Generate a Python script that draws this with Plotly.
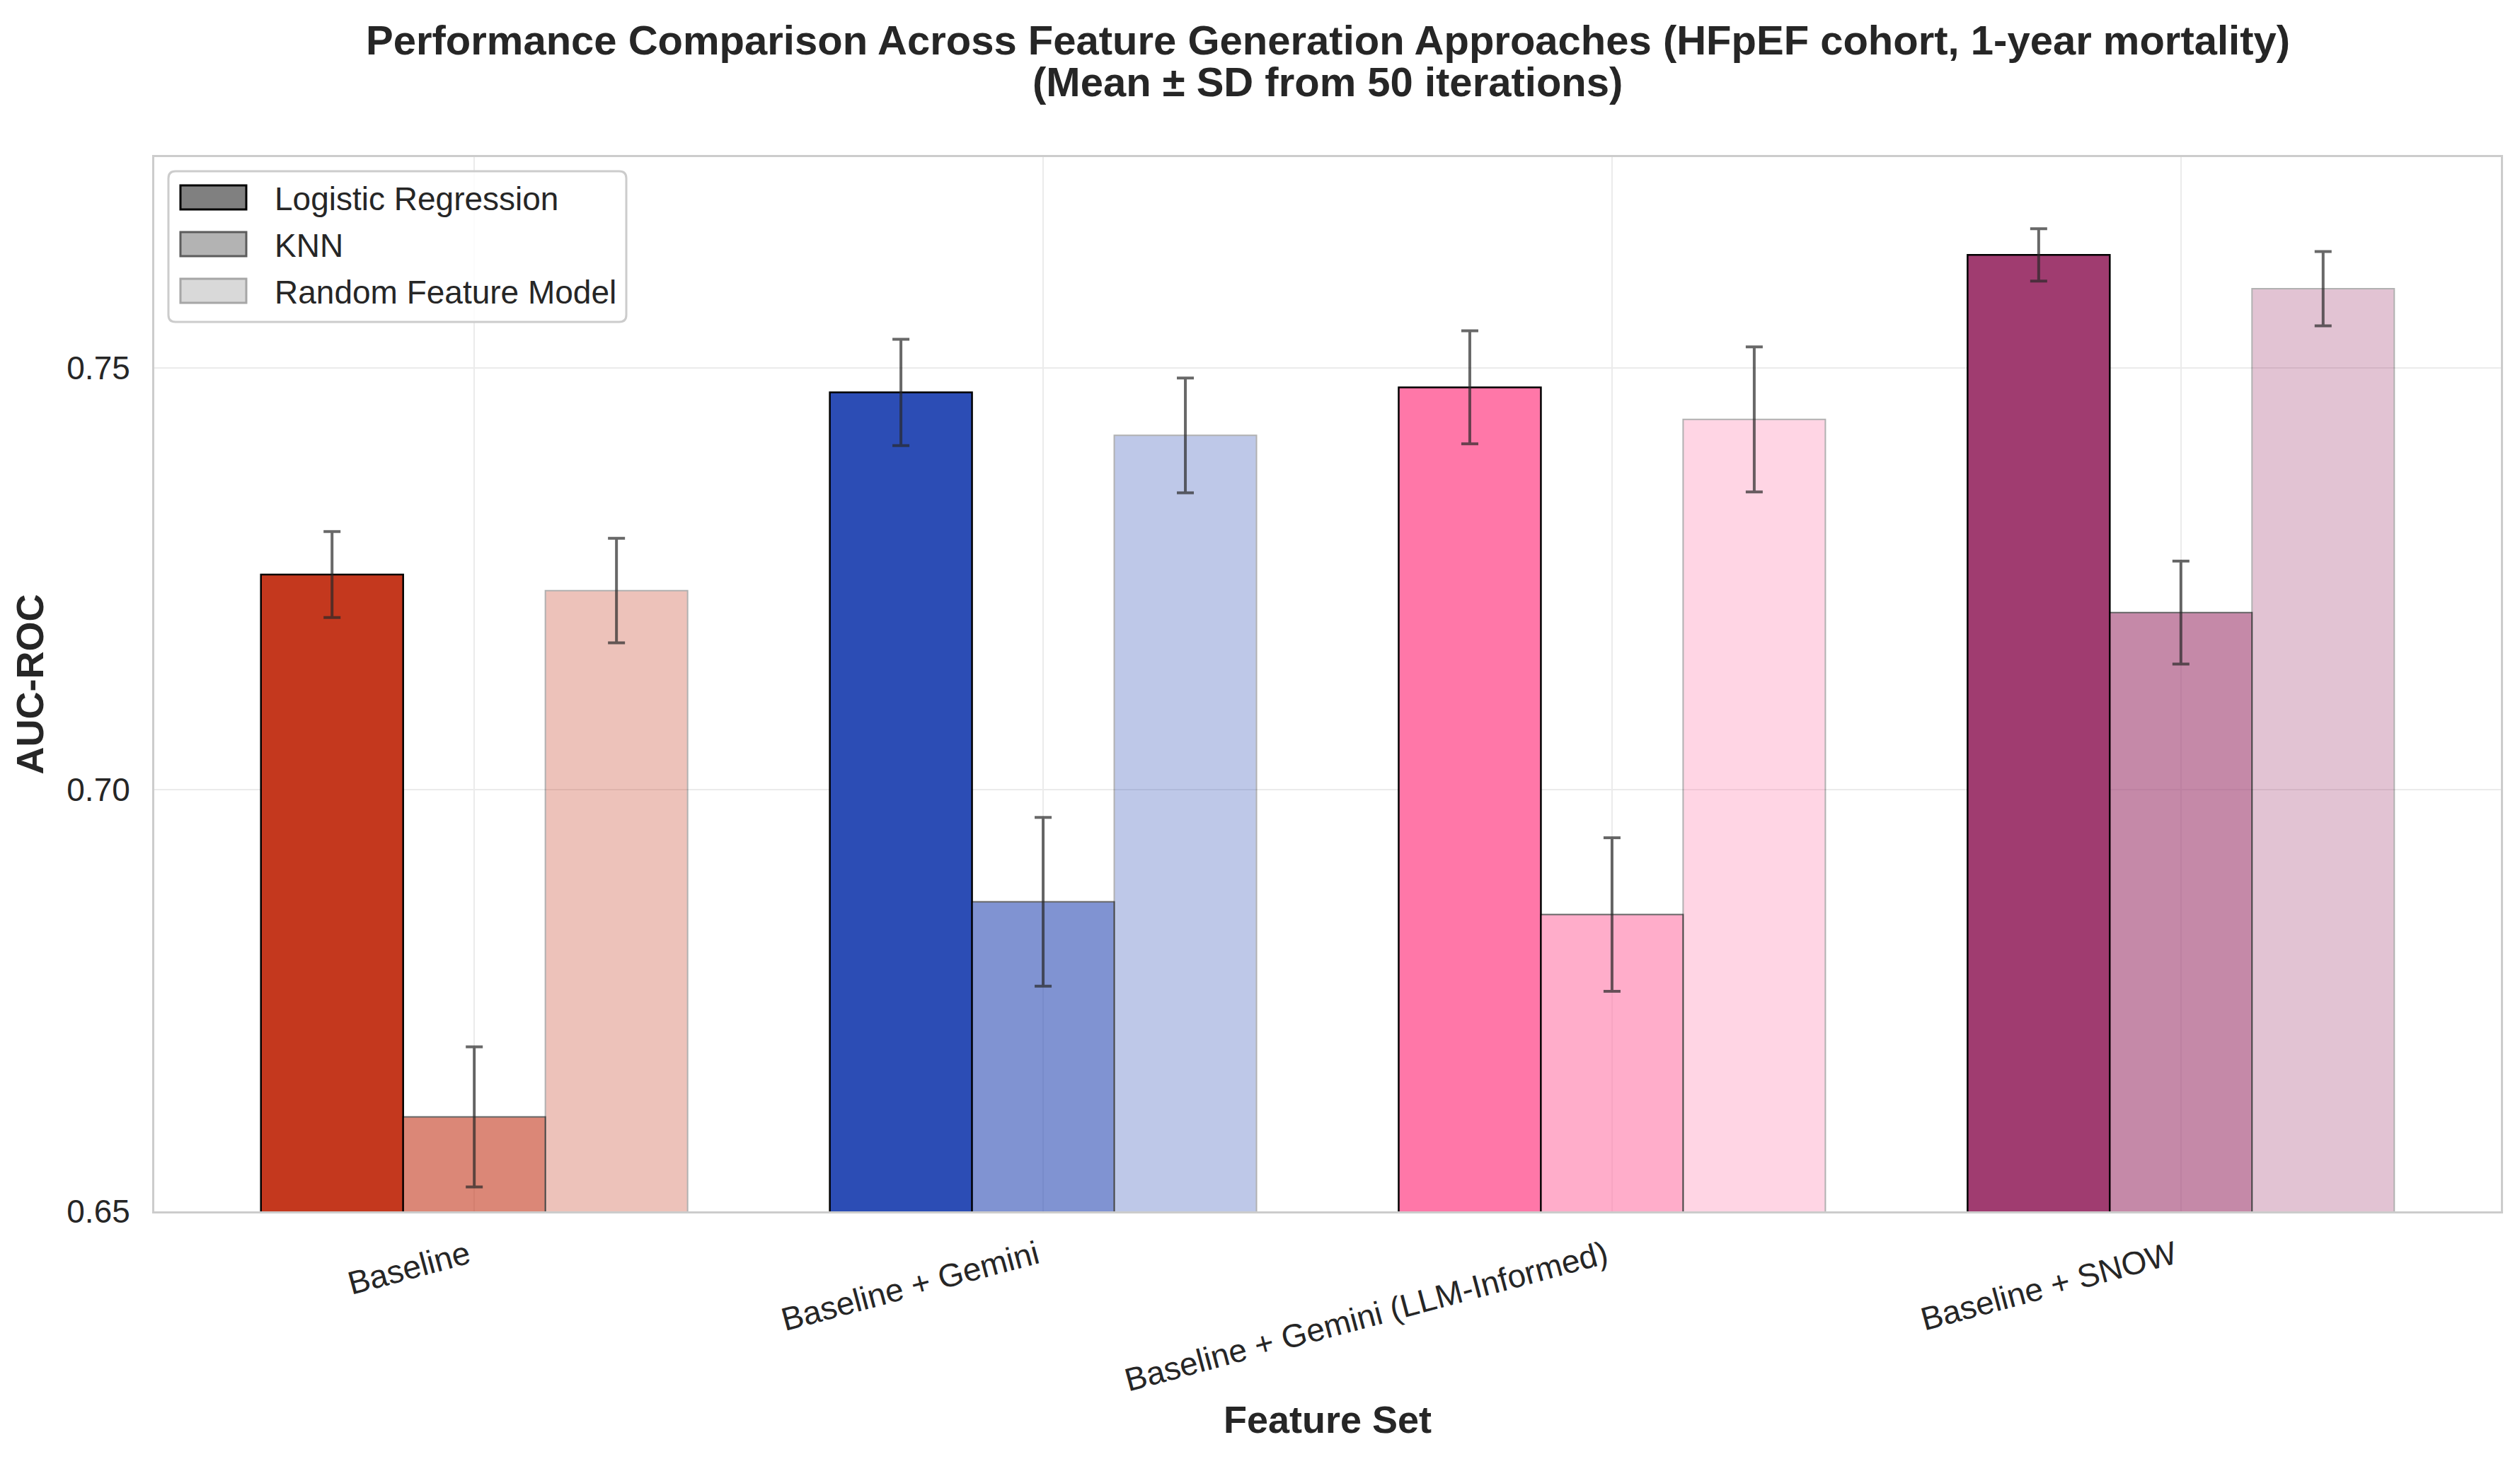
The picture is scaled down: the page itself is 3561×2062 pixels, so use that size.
import plotly.graph_objects as go

categories = ["Baseline", "Baseline + Gemini", "Baseline + Gemini (LLM-Informed)", "Baseline + SNOW"]
models = ["Logistic Regression", "KNN", "Random Feature Model"]

lr_mean = [0.7255, 0.7471, 0.7477, 0.7634]
lr_sd = [0.0051, 0.0063, 0.0067, 0.0031]
knn_mean = [0.6612, 0.6867, 0.6852, 0.7210]
knn_sd = [0.0083, 0.0100, 0.0091, 0.0061]
rfm_mean = [0.7236, 0.7420, 0.7439, 0.7594]
rfm_sd = [0.0062, 0.0068, 0.0086, 0.0044]

group_colors = ["#C4381E", "#2C4DB5", "#FF77A8", "#A03C70"]
legend_colors = ["#808080", "#B3B3B3", "#D9D9D9"]
legend_edges = ["#000000", "#5C5C5C", "#A6A6A6"]

FONT = "Liberation Sans, Arial, Helvetica, sans-serif"
TXT = "#262626"

# page body has an 8px margin; compensate so the plot lands where the reference has it
W, H = 3553, 2054
L, R, T, B = 210, 27, 214, 350
PW, PH = W - L - R, H - T - B
OFF = 8


def px(X):
    return (X - OFF - L) / PW


def py(Y):
    return 1 - (Y - OFF - T) / PH


series = [
    (lr_mean, lr_sd, 1.0, -0.375, 2.5),
    (knn_mean, knn_sd, 0.6, -0.125, 2.0),
    (rfm_mean, rfm_sd, 0.3, 0.125, 2.0),
]

fig = go.Figure()
for i, (m, sd, op, off, lw) in enumerate(series):
    fig.add_trace(go.Bar(
        x=categories, y=m, width=0.25, offset=off,
        marker=dict(color=group_colors, opacity=op,
                    line=dict(color="black", width=lw)),
        error_y=dict(type="data", array=sd, visible=True,
                     color="rgba(40,40,40,0.7)", thickness=4, width=12),
        showlegend=False, name=models[i],
    ))

# legend box (drawn to match the reference's large patches)
bx0, bx1, by0, by1, rad = 238, 885, 242, 455, 10
x0, x1 = px(bx0), px(bx1)
y0, y1 = py(by0), py(by1)
rx, ry = rad / PW, rad / PH
path = (f"M {x0+rx},{y0} L {x1-rx},{y0} Q {x1},{y0} {x1},{y0-ry} "
        f"L {x1},{y1+ry} Q {x1},{y1} {x1-rx},{y1} L {x0+rx},{y1} "
        f"Q {x0},{y1} {x0},{y1+ry} L {x0},{y0-ry} Q {x0},{y0} {x0+rx},{y0} Z")
shapes = [dict(type="path", xref="paper", yref="paper", path=path,
               fillcolor="rgba(255,255,255,0.85)", line=dict(color="#CCCCCC", width=3), layer="above")]
annotations = []
row_centers = [279, 345, 411]
for i, name in enumerate(models):
    yc = row_centers[i]
    shapes.append(dict(type="rect", xref="paper", yref="paper",
                       x0=px(255), x1=px(348), y0=py(yc - 17), y1=py(yc + 17),
                       fillcolor=legend_colors[i], line=dict(color=legend_edges[i], width=3), layer="above"))
    annotations.append(dict(x=px(386), y=py(yc + 2), xref="paper", yref="paper",
                            text=name, showarrow=False, xanchor="left", yanchor="middle",
                            font=dict(family=FONT, size=46, color=TXT)))

annotations.append(dict(x=0.5, y=py(56), xref="paper", yref="paper",
                        text="<b>Performance Comparison Across Feature Generation Approaches (HFpEF cohort, 1-year mortality)</b>",
                        showarrow=False, xanchor="center", yanchor="middle",
                        font=dict(family=FONT, size=58, color=TXT)))
annotations.append(dict(x=0.5, y=py(116), xref="paper", yref="paper",
                        text="<b>(Mean ± SD from 50 iterations)</b>",
                        showarrow=False, xanchor="center", yanchor="middle",
                        font=dict(family=FONT, size=58, color=TXT)))

fig.update_layout(
    width=W, height=H,
    barmode="overlay",
    paper_bgcolor="white", plot_bgcolor="white",
    font=dict(family=FONT, size=46, color=TXT),
    margin=dict(l=L, r=R, t=T, b=B, autoexpand=False),
    showlegend=False,
    shapes=shapes,
    annotations=annotations,
)

fig.update_xaxes(
    range=[-0.5625, 3.5625],
    showgrid=True, gridcolor="#EBEBEB", gridwidth=2,
    showline=True, linecolor="#CCCCCC", linewidth=3, mirror=True,
    ticks="", tickangle=-15, ticklabelstandoff=15, ticklabelshift=-9,
    tickfont=dict(family=FONT, size=46, color=TXT),
    title=dict(text="<b>Feature Set</b>", font=dict(family=FONT, size=54, color=TXT), standoff=12),
    zeroline=False, automargin=False,
)
fig.update_yaxes(
    range=[0.65, 0.775],
    tickvals=[0.65, 0.70, 0.75], ticktext=["0.65", "0.70", "0.75"],
    showgrid=True, gridcolor="#EBEBEB", gridwidth=2,
    showline=True, linecolor="#CCCCCC", linewidth=3, mirror=True,
    ticks="", ticklabelstandoff=22,
    tickfont=dict(family=FONT, size=46, color=TXT),
    title=dict(text="<b>AUC-ROC</b>", font=dict(family=FONT, size=54, color=TXT), standoff=16),
    zeroline=False, automargin=False,
)

fig.write_html("out.html")
